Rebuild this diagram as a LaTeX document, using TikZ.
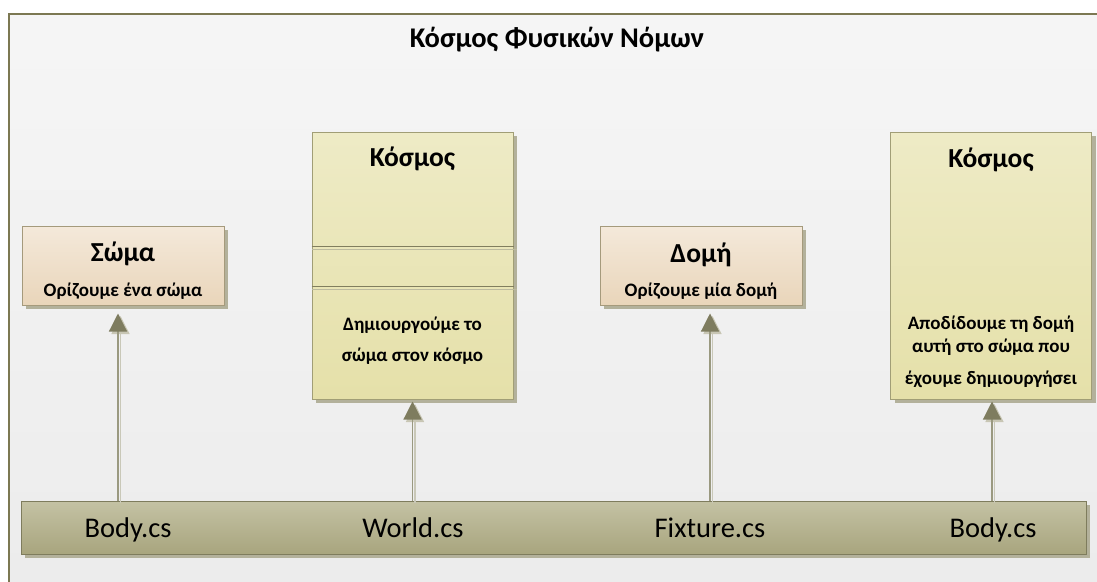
\documentclass[tikz,border=0pt]{standalone}
\usepackage{fontspec}
\setmainfont{Carlito}
\usepackage{xcolor}
\usetikzlibrary{arrows.meta,shadows,backgrounds}

\definecolor{bgpanel}{HTML}{F3F3F3}
\definecolor{frameline}{HTML}{7C7852}
\definecolor{somatop}{HTML}{F4E9DA}
\definecolor{somabot}{HTML}{E9D5BA}
\definecolor{somaline}{HTML}{A59A7C}
\definecolor{kosmostop}{HTML}{EEEBC6}
\definecolor{kosmosbot}{HTML}{E5E0A9}
\definecolor{kosmosline}{HTML}{A19E76}
\definecolor{bartop}{HTML}{C4C2A4}
\definecolor{barbot}{HTML}{A8A57E}
\definecolor{barline}{HTML}{7E7C5D}
\definecolor{shadowc}{HTML}{B3B19B}
\definecolor{linkc}{HTML}{A6A590}
\definecolor{headc}{HTML}{7E7C5F}
\definecolor{headshadow}{HTML}{C8C6B4}
\definecolor{shaftdark}{HTML}{9A9980}
\definecolor{shaftlight}{HTML}{C9C8B8}

\begin{document}
\begin{tikzpicture}[x=1pt,y=-1pt]
\tikzset{box/.style={draw,line width=1pt,inner sep=0pt,
  drop shadow={shadow xshift=4pt,shadow yshift=-4pt,fill=shadowc,opacity=1}}}
\tikzset{somabox/.style={box,draw=somaline,top color=somatop,bottom color=somabot,
  minimum width=202pt,minimum height=79pt}}
\tikzset{kosmosbox/.style={box,draw=kosmosline,top color=kosmostop,bottom color=kosmosbot,
  minimum width=201pt,minimum height=267pt}}
\tikzset{head/.style={anchor=base,font=\fontsize{27.5}{32}\selectfont\bfseries}}
\tikzset{sub/.style={anchor=base,font=\fontsize{19}{23}\selectfont\bfseries}}
\tikzset{file/.style={anchor=base,font=\fontsize{28.5}{32}\selectfont}}
\tikzset{link/.style={draw=linkc,line width=1.2pt}}
\tikzset{sep/.style={draw=kosmosline!80!black,line width=1pt}}
\tikzset{seplight/.style={draw=kosmosline!70,line width=0.8pt}}
\tikzset{uses/.style={draw=shaftdark,line width=1.2pt,-{Triangle[length=18pt,width=18pt,color=headc]},
  preaction={draw=shaftlight,line width=1.4pt,-{Triangle[length=18pt,width=18pt,color=headshadow]},
  transform canvas={xshift=2.5pt,yshift=-2.5pt}}}}

\clip (0,0) rectangle (1097,581);
\useasboundingbox (0,0) rectangle (1097,581);

% panel
\fill[white] (0,0) rectangle (1097,581);
\draw[frameline,line width=1.5pt,top color=bgpanel!80!white,bottom color=bgpanel!97!black]
  (9,14) rectangle (1120,600);

\node[anchor=base,font=\fontsize{28.5}{32}\selectfont\bfseries] (title) at (557,47.5) {Κόσμος Φυσικών Νόμων};

% boxes
\node[somabox] (soma) at (123,265.5) {};
\node[kosmosbox] (kosmos1) at (412.5,265.5) {};
\node[somabox] (domi) at (701,265.5) {};
\node[kosmosbox] (kosmos2) at (991,265.5) {};

\begin{scope}[on background layer]
\draw[link] (soma) -- (kosmos1);
\draw[link] (kosmos1) -- (domi);
\draw[link] (domi) -- (kosmos2);
\end{scope}

\draw[sep] (kosmos1.north west |- 0,246) -- (kosmos1.north east |- 0,246);
\draw[seplight] (312,249) -- (517,249);
\draw[sep] (kosmos1.north west |- 0,286) -- (kosmos1.north east |- 0,286);
\draw[seplight] (312,289) -- (517,289);

\node[head] (somahead) at (123,261.5) {Σώμα};
\node[sub] (somasub) at (123,296) {Ορίζουμε ένα σώμα};
\node[head] (kosmos1head) at (412.5,166) {Κόσμος};
\node[sub] (kosmos1a) at (412.5,330) {Δημιουργούμε το};
\node[sub] (kosmos1b) at (412.5,361) {σώμα στον κόσμο};
\node[head] (domihead) at (701,262) {Δομή};
\node[sub] (domisub) at (701,296) {Ορίζουμε μία δομή};
\node[head] (kosmos2head) at (991,167) {Κόσμος};
\node[sub] (kosmos2a) at (991,329) {Αποδίδουμε τη δομή};
\node[sub] (kosmos2b) at (991,352) {αυτή στο σώμα που};
\node[sub] (kosmos2c) at (991,384) {έχουμε δημιουργήσει};

% files
\node[box,draw=barline,top color=bartop,bottom color=barbot,
  minimum width=1065pt,minimum height=53pt] (bar) at (553.5,527.5) {};
\node[file] (body1) at (128,537) {Body.cs};
\node[file] (world) at (413,537) {World.cs};
\node[file] (fixture) at (710,537) {Fixture.cs};
\node[file] (body2) at (993,537) {Body.cs};

\draw[uses] ([xshift=-5pt]soma.south |- bar.north) -- ([xshift=-5pt,yshift=-8pt]soma.south);
\draw[uses] (kosmos1.south |- bar.north) -- ([yshift=-2pt]kosmos1.south);
\draw[uses] ([xshift=9pt]domi.south |- bar.north) -- ([xshift=9pt,yshift=-8pt]domi.south);
\draw[uses] ([xshift=1pt]kosmos2.south |- bar.north) -- ([xshift=1pt,yshift=-2pt]kosmos2.south);

\end{tikzpicture}
\end{document}
